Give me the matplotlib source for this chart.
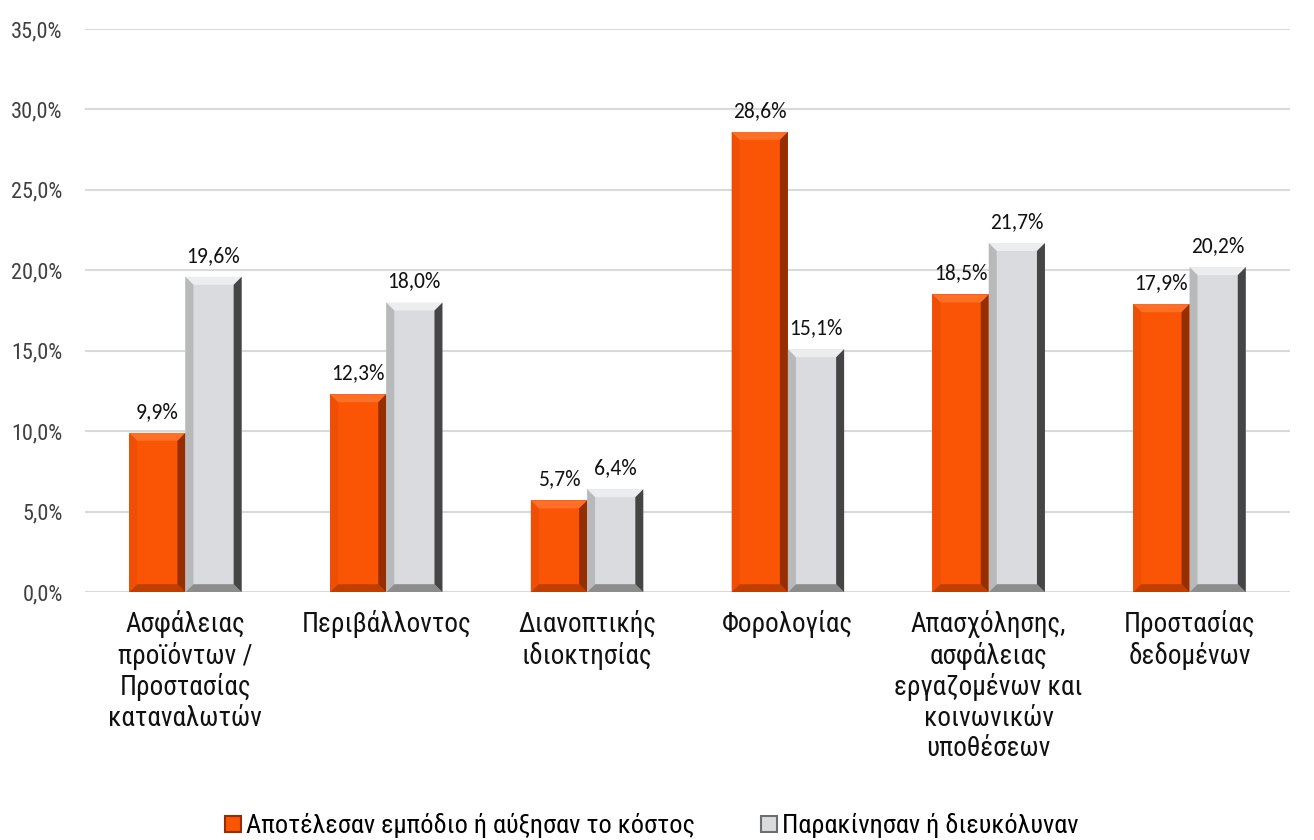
import numpy as np
import matplotlib.pyplot as plt
from matplotlib.patches import Polygon, Patch

# Data
categories = ['Ασφάλειας\nπροϊόντων /\nΠροστασίας\nκαταναλωτών', 'Περιβάλλοντος',
              'Διανοπτικής\nιδιοκτησίας', 'Φορολογίας',
              'Απασχόλησης,\nασφάλειας\nεργαζομένων και\nκοινωνικών\nυποθέσεων',
              'Προστασίας\nδεδομένων']
barrier = [9.9, 12.3, 5.7, 28.6, 18.5, 17.9]
facilitated = [19.6, 18.0, 6.4, 15.1, 21.7, 20.2]
series_names = ['Αποτέλεσαν εμπόδιο ή αύξησαν το κόστος', 'Παρακίνησαν ή διευκόλυναν']
yticks = [0, 5, 10, 15, 20, 25, 30, 35]

plt.rcParams['font.family'] = ['Roboto Condensed', 'DejaVu Sans']
label_font = ['Carlito', 'Open Sans', 'DejaVu Sans']

fig = plt.figure(figsize=(13.14, 8.4), dpi=100)
ax = fig.add_axes([0.0647, 0.295, 0.917, 0.6705])

x = np.arange(len(categories))
w = 0.28
orange = dict(face='#FA5505', top='#FF7026', left='#F04E04', right='#952E00', bottom='#C03F00')
gray = dict(face='#D9DBDE', top='#ECEDEE', left='#B8B9BB', right='#454545', bottom='#8C8C8C')

b1 = ax.bar(x - w / 2, barrier, w, color=orange['face'], zorder=2)
b2 = ax.bar(x + w / 2, facilitated, w, color=gray['face'], zorder=2)

ax.set_xlim(-0.5, len(categories) - 0.5)
ax.set_ylim(0, 35)
fig.canvas.draw()

# bevel thickness in data units (about 8 px)
inv = ax.transData.inverted()
p0 = inv.transform((0, 0))
p1 = inv.transform((8, 8))
dx, dy = p1 - p0

def bevel(bars, c):
    for r in bars:
        x0, y0 = r.get_x(), r.get_y()
        x1, y1 = x0 + r.get_width(), y0 + r.get_height()
        ex, ey = dx, min(dy, r.get_height() / 3)
        polys = [
            ([(x0, y1), (x1, y1), (x1 - ex, y1 - ey), (x0 + ex, y1 - ey)], c['top']),
            ([(x0, y0), (x0, y1), (x0 + ex, y1 - ey), (x0 + ex, y0 + ey)], c['left']),
            ([(x0, y0), (x1, y0), (x1 - ex, y0 + ey), (x0 + ex, y0 + ey)], c['bottom']),
            ([(x1, y1), (x1, y0), (x1 - ex, y0 + ey), (x1 - ex, y1 - ey)], c['right']),
        ]
        for pts, col in polys:
            ax.add_patch(Polygon(pts, closed=True, facecolor=col, edgecolor='none', zorder=3))

bevel(b1, orange)
bevel(b2, gray)

for bars, vals in ((b1, barrier), (b2, facilitated)):
    for r, v in zip(bars, vals):
        ax.annotate(f'{v:.1f}%'.replace('.', ','), (r.get_x() + r.get_width() / 2, v),
                    xytext=(0, 8), textcoords='offset points', ha='center', va='bottom',
                    fontsize=15.5, family=label_font, color='#111111')

ax.set_yticks(yticks)
ax.set_yticklabels([f'{t:.1f}%'.replace('.', ',') for t in yticks], fontsize=16, color='#404040')
ax.set_xticks(x)
ax.set_xticklabels(categories, fontsize=19.5, color='#111111', linespacing=1.16, va='top')
ax.tick_params(axis='both', length=0)
ax.tick_params(axis='x', pad=13)
ax.tick_params(axis='y', pad=16)
ax.grid(axis='y', color='#D9D9D9', lw=1.5, zorder=0)
for s in ax.spines.values():
    s.set_visible(False)

handles = [Patch(facecolor=orange['face'], edgecolor=orange['right'], lw=1.5),
           Patch(facecolor=gray['face'], edgecolor='#6E6E6E', lw=1.5)]
fig.legend(handles, series_names, loc='center', bbox_to_anchor=(0.496, 0.017), ncol=2,
           frameon=False, fontsize=19, handlelength=0.6, handleheight=0.6,
           handletextpad=0.2, columnspacing=2.5)

fig.savefig('out.png', dpi=100)
